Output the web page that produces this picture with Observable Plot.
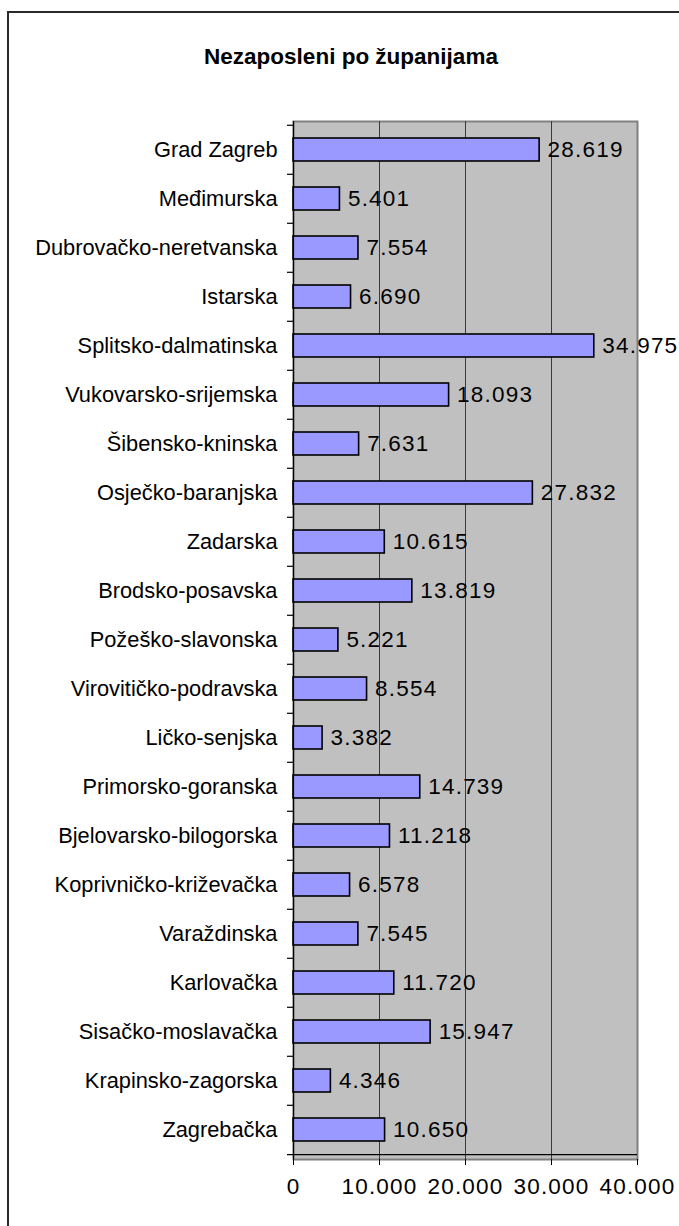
<!DOCTYPE html>
<html>
<head>
<meta charset="utf-8">
<script src="https://cdn.jsdelivr.net/npm/d3@7"></script>
<script src="https://cdn.jsdelivr.net/npm/@observablehq/plot@0.6"></script>
<style>
  html, body { margin: 0; padding: 0; background: #fff; overflow: hidden; }
  body { width: 679px; height: 1226px; position: relative; font-family: "Liberation Sans", Arial, sans-serif; }
  #frame { position: absolute; left: 7px; top: 11px; width: 720px; height: 1300px; border: 2px solid #2a2a2a; box-sizing: border-box; }
  #title { position: absolute; left: 0; top: 44px; width: 702px; text-align: center; font-weight: bold; font-size: 22.5px; line-height: 26px; color: #000; }
  #chart { position: absolute; left: 0; top: 0; }
  #chart g[aria-label="y-axis tick label"] text { font-size: 21.8px; letter-spacing: 0px; }
  #chart g[aria-label="x-axis tick label"] text { font-size: 22.5px; letter-spacing: 1.2px; }
  #chart g[aria-label="text"] text { font-size: 22.5px; letter-spacing: 1.2px; }
</style>
</head>
<body>
<div id="frame"></div>
<div id="title">Nezaposleni po županijama</div>
<div id="chart"></div>
<script>
const counties = [
  "Grad Zagreb", "Međimurska", "Dubrovačko-neretvanska", "Istarska",
  "Splitsko-dalmatinska", "Vukovarsko-srijemska", "Šibensko-kninska",
  "Osječko-baranjska", "Zadarska", "Brodsko-posavska", "Požeško-slavonska",
  "Virovitičko-podravska", "Ličko-senjska", "Primorsko-goranska",
  "Bjelovarsko-bilogorska", "Koprivničko-križevačka", "Varaždinska",
  "Karlovačka", "Sisačko-moslavačka", "Krapinsko-zagorska", "Zagrebačka"
];
const unemployed = [
  28619, 5401, 7554, 6690, 34975, 18093, 7631, 27832, 10615, 13819, 5221,
  8554, 3382, 14739, 11218, 6578, 7545, 11720, 15947, 4346, 10650
];
const xTicks = [0, 10000, 20000, 30000, 40000];
const gridTicks = [10000, 20000, 30000];

const data = counties.map((name, i) => ({name, value: unemployed[i]}));
const fmt = d3.formatLocale({decimal: ",", thousands: ".", grouping: [3], currency: ["", ""]}).format(",d");

const W = 679, H = 1226, mt = 121, mb = 67, ml = 293, mr = 42;
const step = (H - mt - mb) / counties.length;
const font = "Liberation Sans, Arial, sans-serif";

const chart = Plot.plot({
  width: W,
  height: H,
  marginTop: mt,
  marginBottom: mb,
  marginLeft: ml,
  marginRight: mr,
  style: {fontFamily: font, fontSize: "21px", color: "#000", background: "transparent", overflow: "visible"},
  x: {domain: [0, 40000]},
  y: {domain: counties, paddingInner: 0.53, paddingOuter: 0.265},
  marks: [
    Plot.frame({fill: "#c0c0c0", stroke: "#808080", strokeWidth: 2}),
    Plot.ruleX(gridTicks, {stroke: "#3a3a3a", strokeWidth: 1}),
    Plot.barX(data, {x: "value", y: "name", fill: "#9999ff", stroke: "#000", strokeWidth: 1.6}),
    Plot.text(data, {x: "value", y: "name", text: d => fmt(d.value), textAnchor: "start", dx: 8, fontSize: 22.5, fill: "#000"}),
    Plot.ruleX([0], {stroke: "#000", strokeWidth: 1.2}),
    Plot.ruleY(counties, {y: d => d, x1: 0, x2: 0, insetLeft: -6, dy: -step / 2, stroke: "#000", strokeWidth: 1.2}),
    Plot.ruleY([counties[counties.length - 1]], {y: d => d, x1: 0, x2: 40000, insetLeft: -6, dy: step / 2, stroke: "#000", strokeWidth: 1.2}),
    Plot.axisY({tickSize: 0, tickPadding: 16, fontSize: 21.8, label: null}),
    Plot.axisX({ticks: xTicks, tickFormat: fmt, tickSize: 6, tickPadding: 13, fontSize: 22.5, label: null, stroke: "#000"})
  ]
});
document.getElementById("chart").appendChild(chart);
</script>
</body>
</html>
